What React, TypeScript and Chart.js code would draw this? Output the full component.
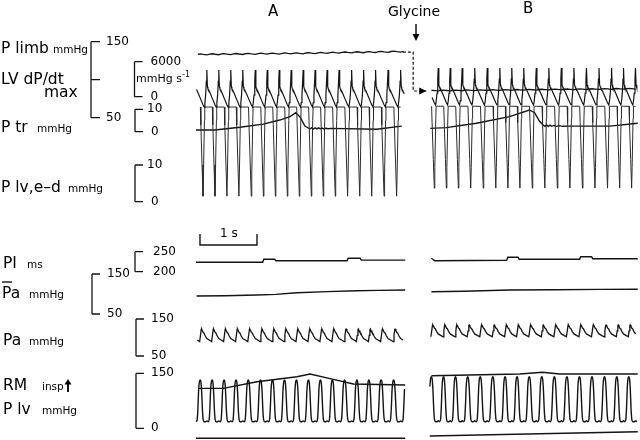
import React, { useEffect, useRef } from 'react';
import { Chart, registerables } from 'chart.js';

Chart.register(...registerables);

const W = 640;
const H = 440;
const INK = '#141414';
const FONT = '"DejaVu Sans", "Liberation Sans", sans-serif';

// ---------------- DATA (read from the recording) ----------------
const panelLabels = ['A', 'B'];
const panelStart = [0, 4.1]; // s, position of each record on the time axis
const panelDuration = [3.66, 3.65]; // s
const glycineTime = 3.86; // s, injection mark
const limbLinkTime = 3.81; // s, where P limb is carried over to record B

// heart beats: times of LV dP/dt peaks (s from start of each record)
const beatsA = [-0.02, 0.19, 0.4, 0.61, 0.82, 1.04, 1.25, 1.46, 1.67, 1.88, 2.09, 2.3, 2.51, 2.73, 2.94, 3.15, 3.37, 3.59];
const beatsB = [0.15, 0.36, 0.57, 0.79, 1.01, 1.23, 1.44, 1.65, 1.87, 2.09, 2.31, 2.53, 2.75, 2.97, 3.19, 3.4, 3.61];

// beat levels per record [A, B]
const dpdtMax = [4580, 4920]; // mmHg s-1
const dpdtMin = [-1770, -1420];
const pedTop = [25.8, 26.0]; // mmHg (pen limit)
const pedMin = [1.5, 3.7];
const paSys = [123, 134];
const paDia = [89, 102];
const plvSys = [132, 141];
const plvDia = [18, 18];
const limbPulse = [1.4, 1.0];

// beat shapes: [phase from dP/dt peak, fraction of beat range]
const dpdtShape = [[0, 1], [0.05, 0.55], [0.09, 0.5], [0.12, 0.47], [0.16, 0.46], [0.3, 0.36], [0.5, 0.2], [0.68, 0.06], [0.78, 0], [0.84, 0.12], [0.9, 0.32], [0.96, 0.7], [1, 1]];
const pedShape = [[0, 1], [0.46, 1], [0.5, 0.8], [0.6, 0.35], [0.68, 0], [0.72, 0.25], [0.8, 0.85], [0.83, 1], [1, 1]];
const paShape = [[0, 0.24], [0.2, 0.12], [0.4, 0], [0.47, 0.5], [0.53, 0.95], [0.56, 1], [0.62, 0.88], [0.7, 0.72], [0.76, 0.68], [0.86, 0.46], [1, 0.24]];
const plvShape = [[0, 0.02], [0.12, 0], [0.2, 0.06], [0.26, 0.35], [0.32, 0.78], [0.38, 0.96], [0.45, 1], [0.51, 0.94], [0.57, 0.7], [0.63, 0.3], [0.69, 0.06], [0.78, 0], [0.9, 0], [1, 0.02]];
const limbShape = [[0, 0], [0.25, 0.7], [0.45, 1], [0.7, 0.5], [1, 0]];

// slow traces: [time s, value]
const limbA = [[0, 132.5], [1.8, 134.0], [3.63, 136.4]]; // mmHg
const limbB = [[0, 85.1], [1.8, 86.3], [3.65, 87.7]];
const ptrA = [[0, 0.76], [0.33, 0.76], [0.77, 2.0], [1.18, 3.4], [1.47, 5.2], [1.65, 6.7], [1.75, 8.5], [1.83, 6.4], [1.91, 2.5], [1.97, 1.65], [2.0, 1.2], [2.03, 1.8], [2.06, 1.2], [2.09, 1.75], [2.12, 1.25], [2.15, 1.7], [2.18, 1.3], [2.21, 1.6], [2.24, 1.3], [2.28, 1.55], [2.32, 1.35], [2.36, 1.5], [3.17, 1.07], [3.61, 2.5]];
const ptrB = [[0.01, 1.5], [0.29, 1.8], [0.82, 3.75], [1.4, 6.7], [1.75, 9.7], [1.84, 8.5], [1.93, 4.5], [1.99, 3.0], [2.02, 2.4], [2.05, 3.0], [2.08, 2.4], [2.11, 2.9], [2.14, 2.4], [2.18, 2.8], [2.22, 2.4], [2.27, 2.7], [2.33, 2.4], [2.46, 2.5], [3.16, 2.5], [3.65, 3.75]];
const rmA = [[0.04, 109], [0.48, 109], [1.07, 127], [1.77, 140.7], [2.0, 148], [2.41, 133.6], [2.76, 120.8], [3.67, 118]];
const rmB = [[0.03, 143.5], [1.58, 148], [1.98, 152.7], [2.28, 148], [3.65, 148]];
const piA = [[0, 223.5], [1.17, 223.5], [1.19, 231], [1.38, 231], [1.4, 227.5], [2.65, 227.5], [2.67, 233.5], [2.88, 233.5], [2.9, 229], [3.67, 229]]; // ms
const piB = [[0.03, 233.5], [0.09, 227.5], [1.35, 228.5], [1.37, 236], [1.55, 236], [1.57, 231], [2.63, 231], [2.65, 237.5], [2.84, 237.5], [2.86, 232.5], [3.65, 232.5]];
const pamA = [[0.01, 95], [0.5, 95.5], [1.07, 97.5], [1.4, 99], [1.77, 103.3], [2.3, 106], [2.82, 108.3], [3.2, 109], [3.67, 110]]; // mmHg
const pamB = [[0.03, 105.8], [0.6, 107], [1.4, 110], [2.2, 110.5], [3.0, 111.5], [3.65, 111.8]];
const baseA = [[0, -27.3], [3.67, -27.3]];
const baseB = [[0, -21], [3.65, -9.3]];

// ---------------- LAYOUT ----------------
const LAYOUT = {
  x0: 196, // px of record A start
  pxPerSec: 57,
  cal: {
    limb: { top: [150, 41.7], bot: [50, 117.7] },
    dpdt: { top: [6000, 61.7], bot: [0, 96.7] },
    ptr: { top: [10, 109.3], bot: [0, 131.7] },
    ped: { top: [10, 165], bot: [0, 201.7] },
    pi: { top: [250, 251.7], bot: [200, 271.7] },
    pam: { top: [150, 274], bot: [50, 314] },
    pa: { top: [150, 319], bot: [50, 356] },
    plv: { top: [150, 373.3], bot: [0, 428.3] },
  } as Record<string, { top: number[]; bot: number[] }>,
};

const BRACKETS = [
  { axis: 'limb', x: 91, tick: 9, values: [150, 100, 50], labels: [[150, '150', 15], [50, '50', 15]] },
  { axis: 'dpdt', x: 134.5, tick: 8, values: [6000, 0], labels: [[6000, '6000', 16], [0, '0', 16]] },
  { axis: 'ptr', x: 135, tick: 8, values: [10, 0], labels: [[10, '10', 12], [0, '0', 16]] },
  { axis: 'ped', x: 135, tick: 8, values: [10, 0], labels: [[10, '10', 12], [0, '0', 16]] },
  { axis: 'pi', x: 135, tick: 8, values: [250, 200], labels: [[250, '250', 18], [200, '200', 18]] },
  { axis: 'pam', x: 92, tick: 8, values: [150, 50], labels: [[150, '150', 15], [50, '50', 15]] },
  { axis: 'pa', x: 136, tick: 8, values: [150, 50], labels: [[150, '150', 15], [50, '50', 15]] },
  { axis: 'plv', x: 136, tick: 8, values: [150, 0], labels: [[150, '150', 15], [0, '0', 15]] },
];

const TEXTS = [
  { t: 'P limb', x: 1, y: 53, s: 15.5 },
  { t: 'mmHg', x: 53, y: 53, s: 10.5 },
  { t: 'LV dP/dt', x: 1, y: 84, s: 15.5 },
  { t: 'max', x: 44, y: 97, s: 15.5 },
  { t: 'P tr', x: 1, y: 132, s: 15.5 },
  { t: 'mmHg', x: 37, y: 132, s: 10.5 },
  { t: 'P lv,e\u2013d', x: 1, y: 192, s: 15.5 },
  { t: 'mmHg', x: 68, y: 192, s: 10.5 },
  { t: 'PI', x: 3, y: 268, s: 15.5 },
  { t: 'ms', x: 27, y: 268, s: 10.5 },
  { t: 'Pa', x: 2, y: 298, s: 15.5 },
  { t: 'mmHg', x: 29, y: 298, s: 10.5 },
  { t: 'Pa', x: 3, y: 345, s: 15.5 },
  { t: 'mmHg', x: 29, y: 345, s: 10.5 },
  { t: 'RM', x: 3, y: 390, s: 15.5 },
  { t: 'insp', x: 42, y: 390, s: 10.5 },
  { t: 'P lv', x: 3, y: 414, s: 15.5 },
  { t: 'mmHg', x: 42, y: 414, s: 10.5 },
  { t: 'mmHg s', x: 136, y: 82, s: 11 },
  { t: '-1', x: 182, y: 77, s: 8 },
  { t: panelLabels[0], x: 268, y: 16, s: 15 },
  { t: 'Glycine', x: 388, y: 16, s: 14 },
  { t: panelLabels[1], x: 523, y: 13, s: 15 },
  { t: '1 s', x: 220, y: 237, s: 12 },
];

// ---------------- helpers ----------------
type Pt = { x: number; y: number };

function valueAt(pts: number[][], t: number): number {
  if (t <= pts[0][0]) return pts[0][1];
  for (let i = 1; i < pts.length; i++) {
    if (t <= pts[i][0]) {
      const [t0, v0] = pts[i - 1];
      const [t1, v1] = pts[i];
      return v0 + ((t - t0) / (t1 - t0)) * (v1 - v0);
    }
  }
  return pts[pts.length - 1][1];
}

function beatTrace(beats: number[], dur: number, shape: number[][], lo: number, hi: number, base?: number[][]): Pt[] {
  const n = beats.length;
  const mean = (beats[n - 1] - beats[0]) / (n - 1);
  const starts = [beats[0] - mean, ...beats, beats[n - 1] + mean];
  const out: Pt[] = [];
  for (let i = 0; i < starts.length - 1; i++) {
    const t0 = starts[i];
    const T = starts[i + 1] - t0;
    shape.forEach(([ph, f], j) => {
      if (j === shape.length - 1 && i < starts.length - 2) return;
      const t = t0 + ph * T;
      if (t < 0 || t > dur) return;
      const b = base ? valueAt(base, t) : 0;
      out.push({ x: t, y: b + lo + f * (hi - lo) });
    });
  }
  return out;
}

const slow = (pts: number[][], off: number): Pt[] => pts.map(([t, v]) => ({ x: t + off, y: v }));
const shift = (pts: Pt[], off: number): Pt[] => pts.map((p) => ({ x: p.x + off, y: p.y }));

function buildDatasets() {
  const ds: any[] = [];
  const line = (label: string, axis: string, data: Pt[], extra: any = {}) =>
    ds.push({ label, yAxisID: axis, data, borderColor: INK, borderWidth: 1.2, pointRadius: 0, tension: 0, fill: false, ...extra });
  const beats = [beatsA, beatsB];
  const limbs = [limbA, limbB];
  const ptr = [ptrA, ptrB];
  const rm = [rmA, rmB];
  const pi = [piA, piB];
  const pam = [pamA, pamB];
  const base = [baseA, baseB];
  for (let p = 0; p < 2; p++) {
    const off = panelStart[p];
    const dur = panelDuration[p];
    const b = beats[p];
    line('P limb ' + panelLabels[p], 'limb', shift(beatTrace(b, dur, limbShape, 0, limbPulse[p], limbs[p]), off), { borderWidth: 1.3 });
    line('LV dP/dt ' + panelLabels[p], 'dpdt', shift(beatTrace(b, dur, dpdtShape, dpdtMin[p], dpdtMax[p]), off), { borderWidth: 1.2 });
    line('P lv,e-d ' + panelLabels[p], 'ped', shift(beatTrace(b, dur, pedShape, pedMin[p], pedTop[p]), off), { borderWidth: 1.0, borderColor: '#2a2a2a' });
    line('P tr ' + panelLabels[p], 'ptr', slow(ptr[p], off), { borderWidth: 1.4 });
    line('PI ' + panelLabels[p], 'pi', slow(pi[p], off), { borderWidth: 1.4 });
    line('Pa mean ' + panelLabels[p], 'pam', slow(pam[p], off), { borderWidth: 1.4 });
    line('Pa ' + panelLabels[p], 'pa', shift(beatTrace(b, dur, paShape, paDia[p], paSys[p]), off), { borderWidth: 1.3 });
    line('P lv ' + panelLabels[p], 'plv', shift(beatTrace(b, dur, plvShape, plvDia[p], plvSys[p]), off), { borderWidth: 1.4, cubicInterpolationMode: 'monotone' });
    line('RM ' + panelLabels[p], 'plv', slow(rm[p], off), { borderWidth: 1.4 });
    line('base ' + panelLabels[p], 'plv', slow(base[p], off), { borderWidth: 1.5 });
  }
  const aEnd = limbA[limbA.length - 1];
  const bStart = limbB[0];
  line('P limb link', 'limb', [
    { x: aEnd[0] + panelStart[0], y: aEnd[1] },
    { x: limbLinkTime, y: aEnd[1] },
    { x: limbLinkTime, y: bStart[1] },
    { x: panelStart[1] - 0.06, y: bStart[1] },
  ], { borderDash: [3, 2], borderWidth: 1.2 });
  return ds;
}

const overlay = {
  id: 'overlay',
  afterDraw(chart: any) {
    const ctx = chart.ctx as CanvasRenderingContext2D;
    const xs = chart.scales.x;
    ctx.save();
    ctx.fillStyle = '#000';
    ctx.strokeStyle = INK;
    ctx.textBaseline = 'alphabetic';
    for (const l of TEXTS) {
      ctx.font = `${l.s}px ${FONT}`;
      ctx.fillText(l.t, l.x, l.y);
    }
    // bar over mean Pa
    ctx.lineWidth = 1.4;
    ctx.beginPath();
    ctx.moveTo(2, 282);
    ctx.lineTo(12, 282);
    ctx.stroke();
    // insp arrow
    ctx.lineWidth = 2;
    ctx.beginPath();
    ctx.moveTo(68, 392);
    ctx.lineTo(68, 383);
    ctx.stroke();
    ctx.beginPath();
    ctx.moveTo(64.5, 384.5);
    ctx.lineTo(68, 379);
    ctx.lineTo(71.5, 384.5);
    ctx.closePath();
    ctx.fill();
    // calibration brackets
    for (const b of BRACKETS) {
      const s = chart.scales[b.axis];
      const ys = b.values.map((v) => s.getPixelForValue(v));
      ctx.lineWidth = 1.3;
      ctx.beginPath();
      ctx.moveTo(b.x, ys[0]);
      ctx.lineTo(b.x, ys[ys.length - 1]);
      for (const y of ys) {
        ctx.moveTo(b.x, y);
        ctx.lineTo(b.x + b.tick, y);
      }
      ctx.stroke();
      ctx.font = `12px ${FONT}`;
      ctx.textBaseline = 'middle';
      for (const [v, txt, dx] of b.labels as any[]) ctx.fillText(txt, b.x + dx, s.getPixelForValue(v));
      ctx.textBaseline = 'alphabetic';
    }
    // glycine arrow
    const gx = xs.getPixelForValue(glycineTime);
    ctx.lineWidth = 1.5;
    ctx.beginPath();
    ctx.moveTo(gx, 24);
    ctx.lineTo(gx, 36);
    ctx.stroke();
    ctx.beginPath();
    ctx.moveTo(gx - 3.5, 34);
    ctx.lineTo(gx, 41);
    ctx.lineTo(gx + 3.5, 34);
    ctx.closePath();
    ctx.fill();
    // arrow head of P limb link
    const ly = chart.scales.limb.getPixelForValue(limbB[0][1]);
    const lx = xs.getPixelForValue(panelStart[1] - 0.06);
    ctx.beginPath();
    ctx.moveTo(lx - 7, ly - 3.5);
    ctx.lineTo(lx, ly);
    ctx.lineTo(lx - 7, ly + 3.5);
    ctx.closePath();
    ctx.fill();
    // 1 s time bar
    const t0 = xs.getPixelForValue(0.07);
    const t1 = xs.getPixelForValue(1.07);
    ctx.lineWidth = 1.4;
    ctx.beginPath();
    ctx.moveTo(t0, 234);
    ctx.lineTo(t0, 245);
    ctx.lineTo(t1, 245);
    ctx.lineTo(t1, 234);
    ctx.stroke();
    ctx.restore();
  },
};

function buildScales() {
  const scales: any = {
    x: { type: 'linear', display: false, bounds: 'data', min: -LAYOUT.x0 / LAYOUT.pxPerSec, max: (W - LAYOUT.x0) / LAYOUT.pxPerSec },
  };
  for (const [id, c] of Object.entries(LAYOUT.cal)) {
    const k = (c.top[0] - c.bot[0]) / (c.bot[1] - c.top[1]);
    scales[id] = { type: 'linear', display: false, bounds: 'data', min: c.bot[0] - (H - c.bot[1]) * k, max: c.top[0] + c.top[1] * k };
  }
  return scales;
}

export default function App() {
  const ref = useRef<HTMLCanvasElement | null>(null);
  useEffect(() => {
    if (!ref.current) return;
    const chart = new Chart(ref.current, {
      type: 'line',
      data: { datasets: buildDatasets() },
      options: {
        responsive: false,
        animation: false,
        devicePixelRatio: 1,
        parsing: false as any,
        layout: { padding: 0 },
        scales: buildScales(),
        plugins: { legend: { display: false }, tooltip: { enabled: false }, title: { display: false } },
        events: [],
      },
      plugins: [overlay],
    } as any);
    return () => chart.destroy();
  }, []);
  return (
    <div style={{ position: 'absolute', left: 0, top: 0, width: W, height: H, background: '#fff' }}>
      <canvas ref={ref} width={W} height={H} style={{ display: 'block' }} />
    </div>
  );
}
